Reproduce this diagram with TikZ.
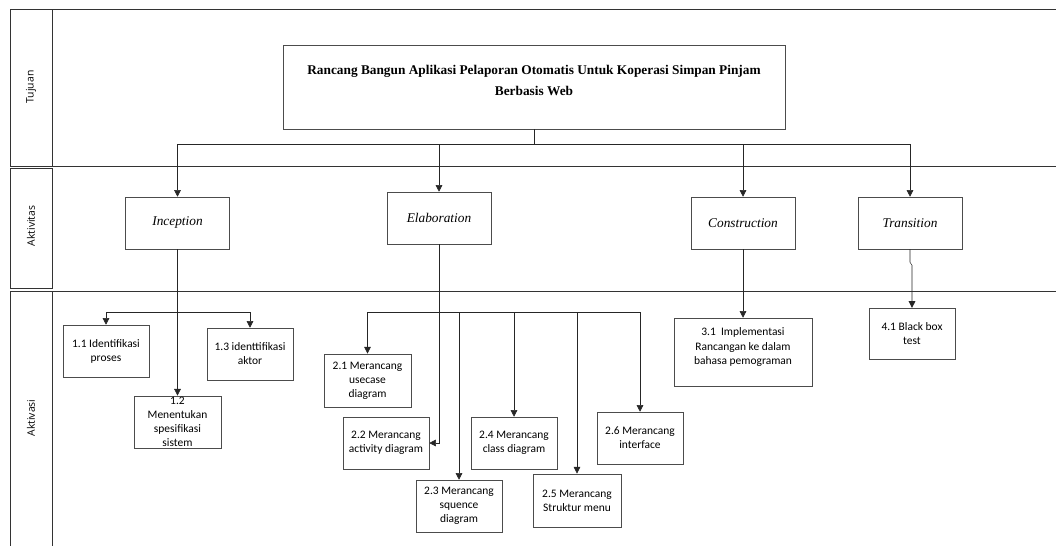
\documentclass[tikz,border=0pt]{standalone}
\usepackage{fontspec}
\setmainfont{Liberation Serif}
\newfontfamily\boxfont{Carlito}
\newfontfamily\lanefont{Open Sans}
\usetikzlibrary{arrows.meta}

\tikzset{
    box/.style={draw=black!70, rectangle, inner sep=1pt, align=center,
        font=\boxfont\fontsize{8.6}{10.5}\selectfont},
    phase/.style={draw=black!70, rectangle, minimum width=78pt, minimum height=39pt,
        font=\fontsize{10}{12}\selectfont\itshape},
    lane/.style={rotate=90, font=\lanefont\fontsize{7.8}{9}\selectfont},
    arr/.style={-{Triangle[length=5pt,width=5pt]}, black!85},
    lnk/.style={black!85}
}

\begin{document}
\begin{tikzpicture}[x=0.75pt,y=-0.75pt]
    \useasboundingbox (0,0) rectangle (1056,546);

    % swimlanes
    \draw[black!80] (10,9) -- (1056,9);
    \draw[black!80] (10,9) rectangle (52,166);
    \draw[black!80] (10,168) rectangle (52,288);
    \draw[black!80] (10,292) -- (10,546);
    \draw[black!80] (52,292) -- (52,546);
    \draw[black!80] (10,166) -- (1056,166);
    \draw[black!80] (10,291.5) -- (1056,291.5);
    \node[lane] (tujuan) at (31,87) {Tujuan};
    \node[lane] (aktivitas) at (31,226) {Aktivitas};
    \node[lane] (aktivasi) at (31,418) {Aktivasi};

    % tujuan
    \node[draw=black!70, minimum width=376.5pt, minimum height=63pt,
        label={[anchor=north, yshift=-12pt, align=center,
        font=\bfseries\fontsize{10}{15.4}\selectfont]north:Rancang Bangun Aplikasi Pelaporan Otomatis Untuk Koperasi Simpan Pinjam\\Berbasis Web}]
        (goal) at (534,87) {};

    % aktivitas
    \node[phase] (incep) at (177.5,223) {Inception};
    \node[phase] (elab) at (439,218) {Elaboration};
    \node[phase] (cons) at (743,223) {Construction};
    \node[phase] (trans) at (910,223) {Transition};

    \draw[lnk] (goal.south) -- (534,144.5) coordinate (bus);
    \draw[arr] (bus) -| (incep.north);
    \draw[arr] (bus) -| (elab.north);
    \draw[arr] (bus) -| (cons.north);
    \draw[arr] (bus) -| (trans.north);

    % aktivasi - inception
    \node[box, minimum width=64.5pt, minimum height=39pt] (a11) at (106,351) {1.1 Identifikasi\\proses};
    \node[box, minimum width=65pt, minimum height=39pt] (a12) at (177.5,422) {1.2\\Menentukan\\spesifikasi\\sistem};
    \node[box, minimum width=64.5pt, minimum height=39pt] (a13) at (250,354) {1.3 identtifikasi\\aktor};
    \draw[arr] (incep.south) -- (a12.north);
    \coordinate (ibr) at (177.5,312);
    \draw[arr] (ibr) -| (a11.north);
    \draw[arr] (ibr) -| (a13.north);

    % aktivasi - elaboration
    \node[box, minimum width=65pt, minimum height=40pt] (a21) at (367.5,380.5) {2.1 Merancang\\usecase\\diagram};
    \node[box, minimum width=64.5pt, minimum height=39pt] (a22) at (386,443) {2.2 Merancang\\activity diagram};
    \node[box, minimum width=64.5pt, minimum height=39pt] (a23) at (459,506) {2.3 Merancang\\squence\\diagram};
    \node[box, minimum width=64.5pt, minimum height=39pt] (a24) at (514,443) {2.4 Merancang\\class diagram};
    \node[box, minimum width=66pt, minimum height=40pt] (a25) at (577,500.5) {2.5 Merancang\\Struktur menu};
    \node[box, minimum width=64.5pt, minimum height=39pt] (a26) at (640,438) {2.6 Merancang\\interface};
    \draw[arr] (elab.south) |- (a22.east);
    \coordinate (ebr) at (439,312);
    \draw[lnk] (ebr) -- (640,312);
    \draw[arr] (ebr) -| (a21.north);
    \draw[arr] (ebr) -| (a23.north);
    \draw[arr] (ebr) -| (a24.north);
    \draw[arr] (ebr) -| (a25.north);
    \draw[arr] (ebr) -| (a26.north);

    % aktivasi - construction, transition
    \node[box, minimum width=103.5pt, minimum height=51pt,
        label={[anchor=north, yshift=-4pt, align=center,
        font=\boxfont\fontsize{8.6}{10.9}\selectfont]north:3.1~ Implementasi\\Rancangan ke dalam\\bahasa pemograman}]
        (a31) at (743,352) {};
    \node[box, minimum width=64.5pt, minimum height=38pt] (a41) at (912,333.5) {4.1 Black box\\test};
    \draw[arr] (cons.south) -- (a31.north);
    \draw[arr] (trans.south) -- ++(0,13) -- ++(2,3) -- (a41.north);
\end{tikzpicture}
\end{document}
